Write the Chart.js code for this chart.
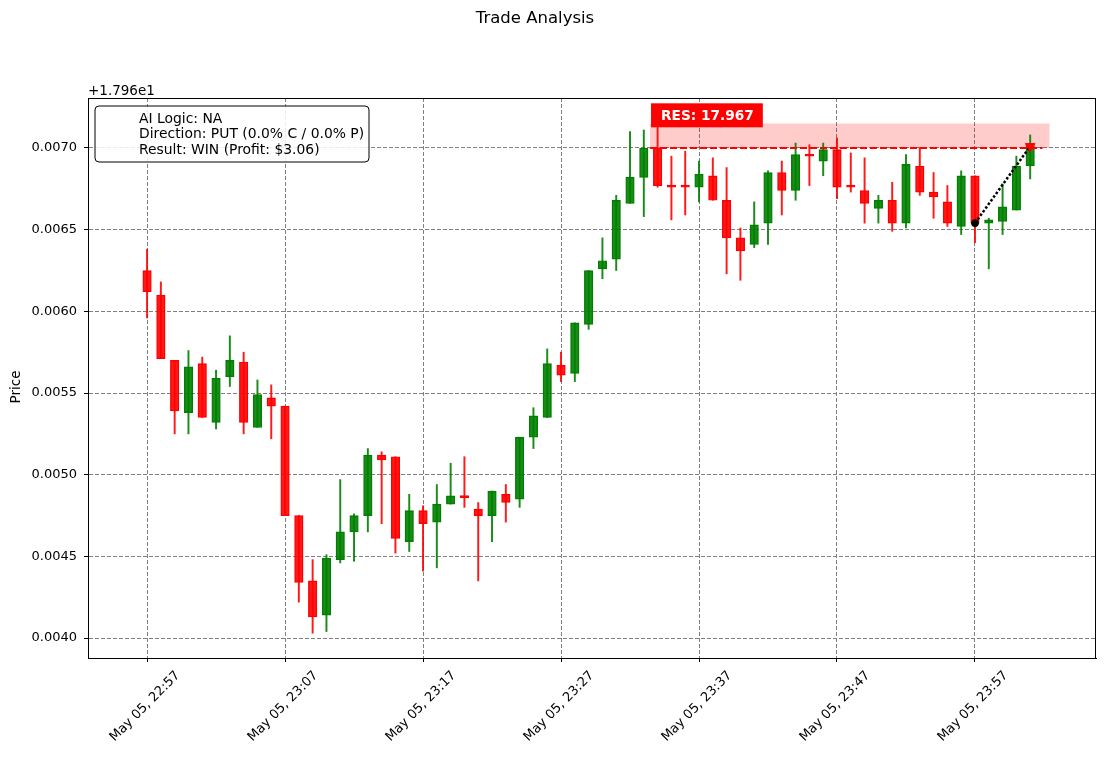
<!DOCTYPE html>
<html>
<head>
<meta charset="utf-8">
<script src="https://cdn.jsdelivr.net/npm/chart.js@4/dist/chart.umd.min.js"></script>
<style>
  html, body { margin: 0; padding: 0; background: #fff; }
  #wrap { width: 1105px; height: 758px; }
</style>
</head>
<body>
<div id="wrap"><canvas id="chart" width="1105" height="758"></canvas></div>
<script>
// prices are shown as offsets from 17.96 (axis offset text "+1.796e1")
const offsetText = '+1.796e1';
const titleText = 'Trade Analysis';
const yTitle = 'Price';

// one candle per minute, minute 0 = May 05 22:57
const openP  = [0.00625, 0.00610, 0.00570, 0.00538, 0.00568, 0.00532, 0.00560, 0.00569, 0.00529, 0.00547,
                0.00542, 0.00475, 0.00435, 0.00414, 0.00448, 0.00465, 0.00475, 0.00512, 0.00511, 0.00459,
                0.00478, 0.00471, 0.00482, 0.00487, 0.00479, 0.00475, 0.00488, 0.00485, 0.00523, 0.00535,
                0.00567, 0.00562, 0.00592, 0.00626, 0.00632, 0.00666, 0.00682, 0.00700, 0.00677, 0.00677,
                0.00676, 0.00683, 0.00668, 0.00645, 0.00641, 0.00654, 0.00685, 0.00674, 0.00696, 0.00692,
                0.00699, 0.00677, 0.00674, 0.00663, 0.00668, 0.00654, 0.00689, 0.00673, 0.00667, 0.00652,
                0.00683, 0.00654, 0.00655, 0.00662, 0.00689];
const highP  = [0.00638, 0.00618, 0.00570, 0.00576, 0.00572, 0.00564, 0.00585, 0.00575, 0.00558, 0.00555,
                0.00542, 0.00475, 0.00448, 0.00451, 0.00497, 0.00476, 0.00516, 0.00514, 0.00511, 0.00488,
                0.00481, 0.00494, 0.00507, 0.00511, 0.00483, 0.00490, 0.00494, 0.00523, 0.00541, 0.00577,
                0.00575, 0.00593, 0.00625, 0.00645, 0.00671, 0.00710, 0.00711, 0.00716, 0.00695, 0.00698,
                0.00692, 0.00694, 0.00688, 0.00651, 0.00667, 0.00686, 0.00692, 0.00703, 0.00702, 0.00703,
                0.00706, 0.00697, 0.00694, 0.00671, 0.00679, 0.00696, 0.00700, 0.00685, 0.00677, 0.00686,
                0.00683, 0.00657, 0.00678, 0.00695, 0.00708];
const lowP   = [0.00596, 0.00571, 0.00525, 0.00525, 0.00535, 0.00528, 0.00554, 0.00525, 0.00529, 0.00522,
                0.00475, 0.00422, 0.00403, 0.00404, 0.00446, 0.00447, 0.00465, 0.00470, 0.00452, 0.00453,
                0.00441, 0.00443, 0.00482, 0.00480, 0.00435, 0.00459, 0.00471, 0.00480, 0.00516, 0.00535,
                0.00557, 0.00557, 0.00589, 0.00620, 0.00625, 0.00666, 0.00658, 0.00676, 0.00656, 0.00659,
                0.00667, 0.00668, 0.00623, 0.00619, 0.00639, 0.00641, 0.00659, 0.00668, 0.00677, 0.00683,
                0.00669, 0.00673, 0.00654, 0.00654, 0.00649, 0.00651, 0.00671, 0.00657, 0.00652, 0.00647,
                0.00642, 0.00626, 0.00647, 0.00662, 0.00681];
const closeP = [0.00612, 0.00571, 0.00539, 0.00566, 0.00535, 0.00559, 0.00570, 0.00532, 0.00549, 0.00542,
                0.00475, 0.00434, 0.00413, 0.00449, 0.00465, 0.00475, 0.00512, 0.00509, 0.00461, 0.00478,
                0.00470, 0.00482, 0.00487, 0.00486, 0.00475, 0.00490, 0.00483, 0.00523, 0.00536, 0.00568,
                0.00561, 0.00593, 0.00625, 0.00631, 0.00668, 0.00682, 0.00700, 0.00677, 0.00676, 0.00676,
                0.00684, 0.00668, 0.00645, 0.00637, 0.00653, 0.00685, 0.00674, 0.00696, 0.00695, 0.00699,
                0.00676, 0.00676, 0.00666, 0.00668, 0.00654, 0.00690, 0.00673, 0.00670, 0.00654, 0.00683,
                0.00654, 0.00656, 0.00664, 0.00689, 0.00702];

const xTickMinutes = [0, 10, 20, 30, 40, 50, 60];
const xTickLabels = ['May 05, 22:57', 'May 05, 23:07', 'May 05, 23:17', 'May 05, 23:27',
                     'May 05, 23:37', 'May 05, 23:47', 'May 05, 23:57'];
const yTickValues = [0.0040, 0.0045, 0.0050, 0.0055, 0.0060, 0.0065, 0.0070];

// trade: entry at 23:57, exit at 00:01
const tradeMinutes = [60, 64];
const tradePrices = [0.00654, 0.00701];

// resistance level 17.967 and its zone
const resLevel = 0.00700;
const resZoneTop = 0.00715;
const resFrom = 36.45;
const resTo = 65.4;
const resLineTo = 64.9;
const resLabel = 'RES: 17.967';

const infoLines = ['AI Logic: NA', 'Direction: PUT (0.0% C / 0.0% P)', 'Result: WIN (Profit: $3.06)'];

const RED = 'rgba(255, 0, 0, 0.9)';
const GREEN = 'rgba(0, 128, 0, 0.9)';
const FONT = 'DejaVu Sans';

const minutes = openP.map((_, i) => i);
const candleColors = minutes.map(i => closeP[i] >= openP[i] ? GREEN : RED);

const decor = {
  id: 'decor',
  beforeDatasetsDraw(chart) {
    const { ctx, chartArea: a, scales: { x, y } } = chart;
    ctx.save();
    ctx.beginPath();
    ctx.rect(a.left, a.top, a.right - a.left, a.bottom - a.top);
    ctx.clip();
    ctx.fillStyle = 'rgba(255, 0, 0, 0.2)';
    const x0 = x.getPixelForValue(resFrom), x1 = x.getPixelForValue(resTo);
    const y0 = y.getPixelForValue(resZoneTop), y1 = y.getPixelForValue(resLevel);
    ctx.fillRect(x0, y0, x1 - x0, y1 - y0);
    ctx.restore();
  },
  afterDatasetsDraw(chart) {
    const { ctx, chartArea: a, scales: { x, y } } = chart;
    ctx.save();
    // resistance label
    const lx = x.getPixelForValue(resFrom);
    const ly = y.getPixelForValue(0.0072);
    ctx.font = 'bold 13.7px "' + FONT + '"';
    const tw = ctx.measureText(resLabel).width;
    ctx.fillStyle = '#ff0000';
    ctx.fillRect(lx + 1, ly - 12, tw + 19, 24);
    ctx.fillStyle = '#fff';
    ctx.textBaseline = 'middle';
    ctx.fillText(resLabel, lx + 11, ly + 1);
    // full box round the plot
    ctx.strokeStyle = '#000';
    ctx.lineWidth = 1;
    ctx.strokeRect(a.left + 0.5, a.top + 0.5, a.right - a.left - 1, a.bottom - a.top);
    ctx.restore();
  },
  afterDraw(chart) {
    const { ctx, chartArea: a } = chart;
    ctx.save();
    ctx.fillStyle = '#000';
    ctx.textBaseline = 'middle';
    ctx.font = '16.5px "' + FONT + '"';
    ctx.textAlign = 'center';
    ctx.fillText(titleText, 535, 19);
    ctx.font = '13.5px "' + FONT + '"';
    ctx.textAlign = 'left';
    ctx.fillText(offsetText, a.left, 91);
    ctx.save();
    ctx.translate(16, 387);
    ctx.rotate(-Math.PI / 2);
    ctx.textAlign = 'center';
    ctx.fillText(yTitle, 0, 0);
    ctx.restore();
    // info box
    const bx = 95, by = 106, bw = 274, bh = 56, r = 4;
    ctx.beginPath();
    ctx.moveTo(bx + r, by);
    ctx.arcTo(bx + bw, by, bx + bw, by + bh, r);
    ctx.arcTo(bx + bw, by + bh, bx, by + bh, r);
    ctx.arcTo(bx, by + bh, bx, by, r);
    ctx.arcTo(bx, by, bx + bw, by, r);
    ctx.closePath();
    ctx.fillStyle = 'rgba(255, 255, 255, 0.85)';
    ctx.fill();
    ctx.strokeStyle = '#000';
    ctx.lineWidth = 1;
    ctx.stroke();
    ctx.fillStyle = '#000';
    ctx.font = '13.9px "' + FONT + '"';
    infoLines.forEach((t, i) => ctx.fillText(t, 139, 119 + i * 15.5));
    ctx.restore();
  }
};

Chart.defaults.font.family = FONT;
Chart.defaults.font.size = 13;
Chart.defaults.color = '#000';

new Chart(document.getElementById('chart'), {
  type: 'bar',
  data: {
    datasets: [
      {
        label: 'wicks',
        data: minutes.map(i => ({ x: i, y: [lowP[i], highP[i]] })),
        backgroundColor: candleColors,
        borderWidth: 0,
        barThickness: 1.3,
        grouped: false,
        order: 3
      },
      {
        label: 'bodies',
        data: minutes.map(i => ({ x: i, y: [openP[i], closeP[i]] })),
        backgroundColor: candleColors,
        borderColor: minutes.map(i => closeP[i] >= openP[i] ? 'green' : 'red'),
        borderWidth: 0.8,
        borderSkipped: false,
        barThickness: 8.5,
        minBarLength: 2,
        grouped: false,
        order: 2
      },
      {
        type: 'line',
        label: 'resistance',
        data: [{ x: resFrom, y: resLevel }, { x: resLineTo, y: resLevel }],
        borderColor: '#ff0000',
        borderWidth: 2,
        borderDash: [7, 3],
        pointRadius: 0,
        order: 1
      },
      {
        type: 'line',
        label: 'trade',
        data: tradeMinutes.map((m, i) => ({ x: m, y: tradePrices[i] })),
        borderColor: '#000',
        borderWidth: 2.5,
        borderDash: [2.5, 2],
        pointStyle: ['circle', 'triangle'],
        pointRotation: [0, 180],
        pointRadius: [3.5, 5.5],
        pointBackgroundColor: ['#000', '#ff0000'],
        pointBorderColor: ['#000', '#ff0000'],
        pointBorderWidth: 1,
        order: 0
      }
    ]
  },
  options: {
    responsive: false,
    animation: false,
    devicePixelRatio: 1,
    layout: { padding: { top: 98, right: 9, left: 0, bottom: 0 } },
    plugins: { legend: { display: false }, title: { display: false }, tooltip: { enabled: false } },
    scales: {
      x: {
        type: 'linear',
        min: -4.28,
        max: 68.77,
        offset: false,
        afterBuildTicks: s => { s.ticks = xTickMinutes.map(v => ({ value: v })); },
        afterFit: s => { s.height = 100; },
        grid: { offset: false, color: '#808080', lineWidth: 1, tickColor: '#000', tickLength: 4, tickBorderDash: [] },
        border: { color: '#000', dash: [4, 2] },
        ticks: {
          autoSkip: false,
          minRotation: 45,
          maxRotation: 45,
          labelOffset: 31,
          padding: 6,
          callback: v => xTickLabels[xTickMinutes.indexOf(v)]
        }
      },
      y: {
        min: 0.003878,
        max: 0.007306,
        afterBuildTicks: s => { s.ticks = yTickValues.map(v => ({ value: v })); },
        afterFit: s => { s.width = 88; },
        grid: { color: '#808080', lineWidth: 1, tickColor: '#000', tickLength: 4, tickBorderDash: [] },
        border: { color: '#000', dash: [4, 2] },
        ticks: { padding: 7, callback: v => v.toFixed(4) }
      }
    }
  },
  plugins: [decor]
});
</script>
</body>
</html>
